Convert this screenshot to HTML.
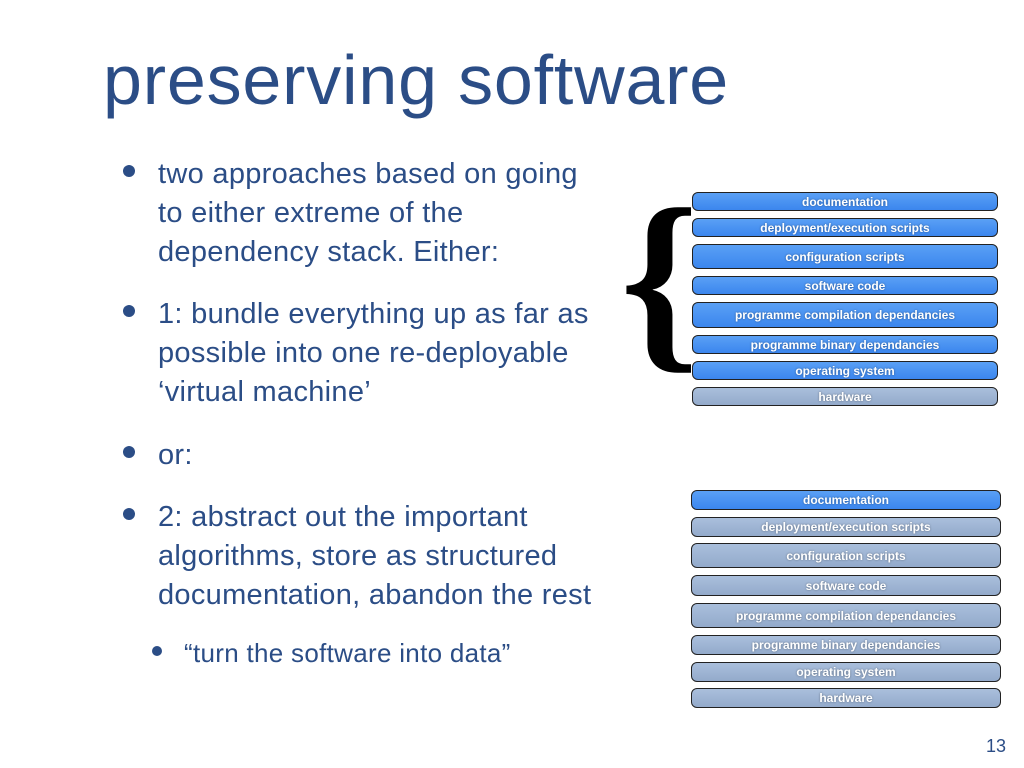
<!DOCTYPE html>
<html><head><meta charset="utf-8"><style>
body{margin:0;width:1024px;height:768px;background:#fff;position:relative;overflow:hidden;font-family:"Liberation Sans",sans-serif}
.t{position:absolute;left:103px;top:40px;font-size:70px;color:#2b4d86;letter-spacing:0.8px}
.p{position:absolute;left:158px;font-size:29px;letter-spacing:0.3px;line-height:39px;color:#2b4d86;white-space:nowrap}
.b{position:absolute;width:12px;height:12px;border-radius:50%;background:#2b4d86}
.bx{position:absolute;border:1.5px solid #222;border-radius:6px;color:#fff;font-weight:bold;font-size:12px;text-align:center;box-sizing:border-box;display:flex;align-items:center;justify-content:center;text-shadow:0 0 2px rgba(0,0,0,.4)}
.bl{background:linear-gradient(#5aa0f5,#3b86ee);}
.gr{background:linear-gradient(#aabfdc,#93aacb);}
</style></head><body>
<div class="t">preserving software</div>
<div class="b" style="left:123px;top:165px"></div>
<div class="p" style="top:155px">two approaches based on going<br>to either extreme of the<br>dependency stack. Either:</div>
<div class="b" style="left:123px;top:305px"></div>
<div class="p" style="top:295px">1: bundle everything up as far as<br>possible into one re-deployable<br>‘virtual machine’</div>
<div class="b" style="left:123px;top:446px"></div>
<div class="p" style="top:436px">or:</div>
<div class="b" style="left:123px;top:508px"></div>
<div class="p" style="top:498px">2: abstract out the important<br>algorithms, store as structured<br>documentation, abandon the rest</div>
<div class="b" style="left:152px;top:646px;width:10px;height:10px"></div>
<div class="p" style="top:634px;left:184px;font-size:26px">“turn the software into data”</div>
<div style="position:absolute;left:620px;top:170px;font-family:'Liberation Serif',serif;font-weight:bold;font-size:200px;line-height:220px;color:#000">{</div>
<div class="bx bl" style="left:692px;top:192px;width:306px;height:19px">documentation</div>
<div class="bx bl" style="left:692px;top:218px;width:306px;height:19px">deployment/execution scripts</div>
<div class="bx bl" style="left:692px;top:244px;width:306px;height:25px">configuration scripts</div>
<div class="bx bl" style="left:692px;top:276px;width:306px;height:19px">software code</div>
<div class="bx bl" style="left:692px;top:302px;width:306px;height:26px">programme compilation dependancies</div>
<div class="bx bl" style="left:692px;top:335px;width:306px;height:19px">programme binary dependancies</div>
<div class="bx bl" style="left:692px;top:361px;width:306px;height:19px">operating system</div>
<div class="bx gr" style="left:692px;top:387px;width:306px;height:19px">hardware</div>
<div class="bx bl" style="left:691px;top:490px;width:310px;height:20px">documentation</div>
<div class="bx gr" style="left:691px;top:517px;width:310px;height:20px">deployment/execution scripts</div>
<div class="bx gr" style="left:691px;top:543px;width:310px;height:25px">configuration scripts</div>
<div class="bx gr" style="left:691px;top:575px;width:310px;height:21px">software code</div>
<div class="bx gr" style="left:691px;top:603px;width:310px;height:25px">programme compilation dependancies</div>
<div class="bx gr" style="left:691px;top:635px;width:310px;height:20px">programme binary dependancies</div>
<div class="bx gr" style="left:691px;top:662px;width:310px;height:20px">operating system</div>
<div class="bx gr" style="left:691px;top:688px;width:310px;height:20px">hardware</div>
<div style="position:absolute;left:986px;top:736px;font-size:18px;color:#2b4d86">13</div>
</body></html>
